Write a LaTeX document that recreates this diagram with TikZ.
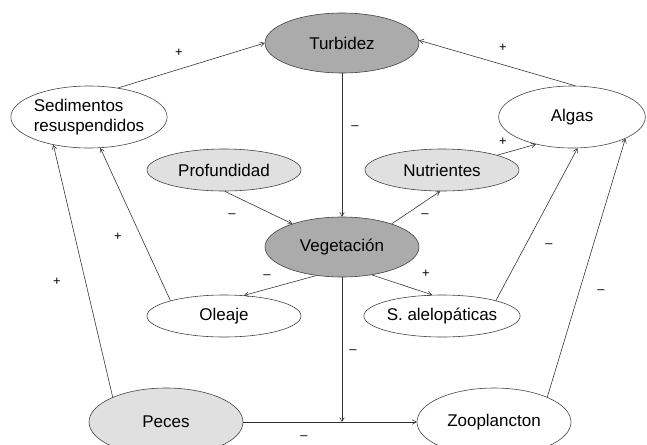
\documentclass[tikz,border=0pt]{standalone}
\usepackage{fontspec}
\setmainfont{Liberation Sans}
\usetikzlibrary{shapes,arrows,positioning}

\begin{document}
\begin{tikzpicture}[x=0.03cm,y=-0.03cm,>=angle 60,
		factor/.style={ellipse,draw=black!75,line width=0.5pt,inner sep=0pt,minimum width=4.62cm,minimum height=1.26cm,font=\fontsize{14.5}{17}\selectfont},
		mainfactor/.style={factor,fill=black!33,minimum height=1.8cm},
		light/.style={factor,fill=black!12},
		bigfactor/.style={factor,minimum height=2.04cm},
		link/.style={->,draw=black!80,line width=0.5pt},
		sign/.style={inner sep=0pt,font=\fontsize{11}{13}\selectfont}]
		\useasboundingbox (0,0) rectangle (647,444);
		% factores
		\node[mainfactor] (turb) at (342,43) {Turbidez};
		\node[factor,minimum width=4.68cm,minimum height=1.86cm,align=left] (sed) at (89,117) {Sedimentos\\resuspendidos};
		\node[factor,minimum width=4.4cm,minimum height=1.86cm] (alg) at (572,117) {Algas};
		\node[light] (prof) at (224,170) {Profundidad};
		\node[light] (nut) at (442,170) {Nutrientes};
		\node[mainfactor] (veg) at (342,247) {Vegetación};
		\node[factor] (ole) at (224,316) {Oleaje};
		\node[factor] (sal) at (442,316) {S. alelopáticas};
		\node[bigfactor,fill=black!12] (pec) at (166,422) {Peces};
		\node[bigfactor] (zoo) at (494,422) {Zooplancton};
		\coordinate (j) at (veg.south |- pec.east);
		% relaciones
		\draw[link] (sed.45) -- (turb.west);
		\draw[link] (alg.84) -- (turb.2);
		\draw[link] (turb.south) -- (veg.north);
		\draw[link] (prof.272) -- (veg.155);
		\draw[link] (veg.25) -- (nut.265);
		\draw[link] (nut.15) -- (alg.217);
		\draw[link] (veg.228) -- (ole.46);
		\draw[link] (veg.317) -- (sal.115);
		\draw[link] (ole.164) -- (sed.290);
		\draw[link] (pec.155) -- (sed.218);
		\draw[link] (sal.16) -- (alg.280);
		\draw[link] (zoo.25) -- (alg.338);
		\draw[link] (pec.east) -- (zoo.west);
		\draw[link] (veg.south) -- (j);
		% signos
		\node[sign] (s1) at (179,53) {+};
		\node[sign] (s2) at (503,48) {+};
		\node[sign] (s3) at (355,128) {–};
		\node[sign] (s4) at (232,216) {–};
		\node[sign] (s5) at (425,216) {–};
		\node[sign] (s6) at (503,142) {+};
		\node[sign] (s7) at (267,277) {–};
		\node[sign] (s8) at (426,274) {+};
		\node[sign] (s9) at (118,237) {+};
		\node[sign] (s10) at (57,282) {+};
		\node[sign] (s11) at (549,246) {–};
		\node[sign] (s12) at (601,292) {–};
		\node[sign] (s13) at (353,352) {–};
		\node[sign] (s14) at (304,438) {–};
	\end{tikzpicture}
\end{document}
